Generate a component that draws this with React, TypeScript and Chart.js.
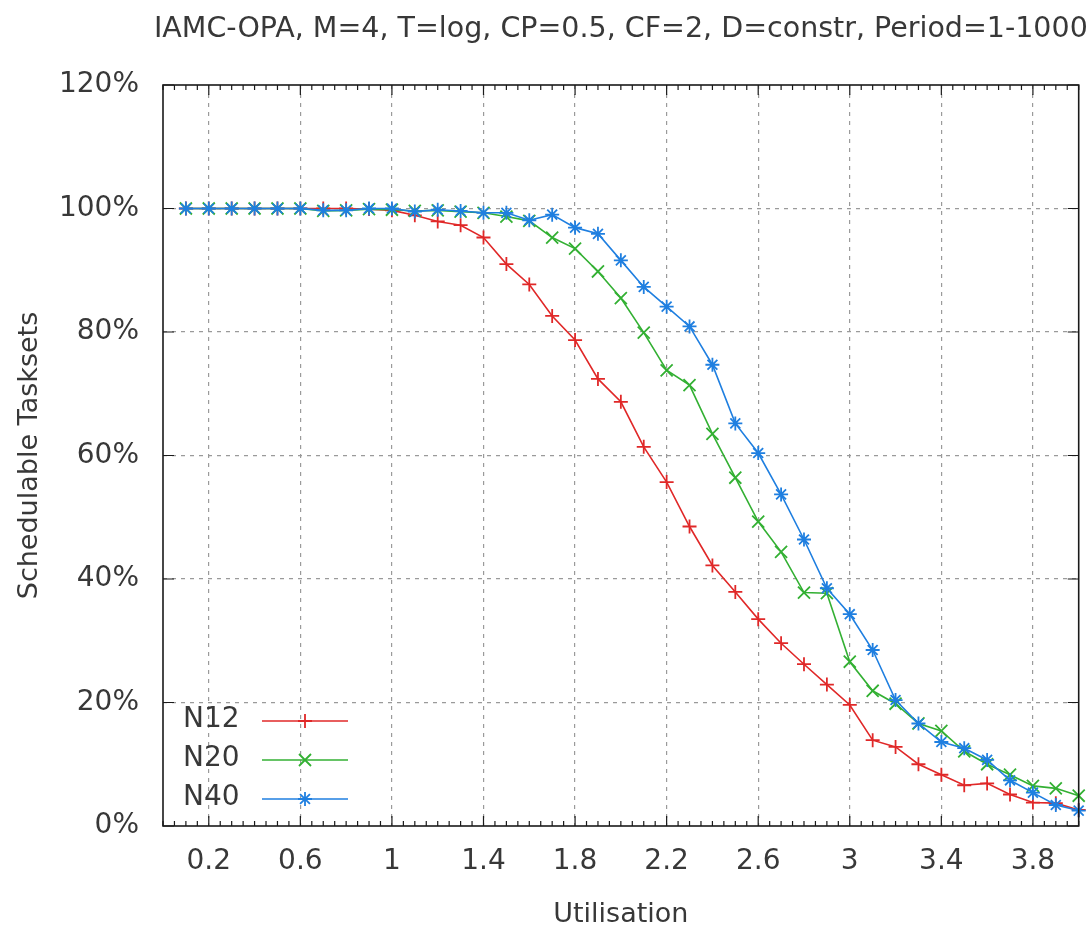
import React, { useEffect, useRef } from "react";
import { Chart, registerables } from "chart.js";

Chart.register(...registerables);

// Utilisation sample points (x axis)
const UTILISATION: number[] = [
  0.1, 0.2, 0.3, 0.4, 0.5, 0.6, 0.7, 0.8, 0.9, 1.0,
  1.1, 1.2, 1.3, 1.4, 1.5, 1.6, 1.7, 1.8, 1.9, 2.0,
  2.1, 2.2, 2.3, 2.4, 2.5, 2.6, 2.7, 2.8, 2.9, 3.0,
  3.1, 3.2, 3.3, 3.4, 3.5, 3.6, 3.7, 3.8, 3.9, 4.0,
];

// Percentage of schedulable tasksets per task count
const N12: number[] = [
  100, 100, 100, 100, 100, 100, 100, 100, 99.9, 99.7,
  98.9, 97.9, 97.3, 95.3, 91.0, 87.7, 82.6, 78.7, 72.4, 68.7,
  61.4, 55.7, 48.5, 42.2, 37.9, 33.5, 29.6, 26.2, 22.9, 19.6,
  13.9, 12.8, 10.0, 8.3, 6.6, 6.9, 5.1, 3.8, 3.7, 2.6,
];
const N20: number[] = [
  100, 100, 100, 100, 100, 100, 99.6, 99.7, 99.9, 99.8,
  99.6, 99.7, 99.5, 99.3, 98.7, 98.0, 95.3, 93.5, 89.8, 85.5,
  79.9, 73.8, 71.4, 63.5, 56.4, 49.3, 44.4, 37.8, 37.7, 26.6,
  21.9, 19.8, 16.6, 15.4, 12.1, 10.0, 8.3, 6.5, 6.1, 4.9,
];
const N40: number[] = [
  100, 100, 100, 100, 100, 100, 99.7, 99.7, 100, 100,
  99.5, 99.8, 99.6, 99.3, 99.3, 98.1, 99.0, 96.9, 95.9, 91.6,
  87.3, 84.1, 80.9, 74.7, 65.2, 60.4, 53.7, 46.4, 38.5, 34.3,
  28.5, 20.4, 16.6, 13.6, 12.6, 10.7, 7.4, 5.4, 3.4, 2.5,
];

const SERIES_NAMES: string[] = ["N12", "N20", "N40"];
const X_MAJOR_TICKS: number[] = [0.2, 0.6, 1.0, 1.4, 1.8, 2.2, 2.6, 3.0, 3.4, 3.8];
const Y_TICKS: number[] = [0, 20, 40, 60, 80, 100, 120];

const TITLE = "IAMC-OPA, M=4, T=log, CP=0.5, CF=2, D=constr, Period=1-1000";
const FONT = "'DejaVu Sans', sans-serif";
const TEXT_COLOR = "#383838";

const COLORS = ["#e02828", "#33b033", "#1f7fe0"];
const STYLES = ["cross", "crossRot", "star"];
const RADII = [7, 8.5, 7];

function drawMarker(ctx: CanvasRenderingContext2D, style: string, x: number, y: number, r: number) {
  ctx.beginPath();
  if (style === "cross" || style === "star") {
    ctx.moveTo(x - r, y);
    ctx.lineTo(x + r, y);
    ctx.moveTo(x, y - r);
    ctx.lineTo(x, y + r);
  }
  if (style === "crossRot" || style === "star") {
    const d = r * Math.SQRT1_2;
    ctx.moveTo(x - d, y - d);
    ctx.lineTo(x + d, y + d);
    ctx.moveTo(x - d, y + d);
    ctx.lineTo(x + d, y - d);
  }
  ctx.stroke();
}

// Frame, inward ticks, title and the in-plot key
const decorations = {
  id: "decorations",
  afterDraw(chart: any) {
    const { ctx, chartArea: a, scales } = chart;
    const xs = scales.x;
    const ys = scales.y;
    ctx.save();

    // border box
    ctx.strokeStyle = "#1a1a1a";
    ctx.lineWidth = 1.6;
    ctx.strokeRect(a.left, a.top, a.right - a.left, a.bottom - a.top);

    // x ticks: minor every 0.05, major at labelled values
    ctx.lineWidth = 1.2;
    ctx.beginPath();
    for (let i = 0; i <= 80; i++) {
      const v = i * 0.05;
      const px = xs.getPixelForValue(v);
      const major = X_MAJOR_TICKS.some((m) => Math.abs(m - v) < 1e-6);
      const len = major ? 10 : 5;
      ctx.moveTo(px, a.bottom);
      ctx.lineTo(px, a.bottom - len);
      ctx.moveTo(px, a.top);
      ctx.lineTo(px, a.top + len);
    }
    // y ticks on both sides
    for (const v of Y_TICKS) {
      const py = ys.getPixelForValue(v);
      ctx.moveTo(a.left, py);
      ctx.lineTo(a.left + 11, py);
      ctx.moveTo(a.right, py);
      ctx.lineTo(a.right - 11, py);
    }
    ctx.stroke();

    // title
    ctx.fillStyle = TEXT_COLOR;
    ctx.font = `28.5px ${FONT}`;
    ctx.textAlign = "center";
    ctx.textBaseline = "alphabetic";
    ctx.fillText(TITLE, (a.left + a.right) / 2, 37);

    // key, bottom-left inside the plot
    ctx.font = `28px ${FONT}`;
    ctx.textAlign = "left";
    ctx.textBaseline = "middle";
    SERIES_NAMES.forEach((name, i) => {
      const y = a.bottom - 106 + i * 39;
      ctx.fillStyle = TEXT_COLOR;
      ctx.fillText(name, a.left + 20, y);
      ctx.strokeStyle = COLORS[i];
      ctx.lineWidth = 1.6;
      ctx.beginPath();
      ctx.moveTo(a.left + 99, y + 1);
      ctx.lineTo(a.left + 185, y + 1);
      ctx.stroke();
      ctx.lineWidth = 1.8;
      drawMarker(ctx, STYLES[i], a.left + 142, y + 1, RADII[i]);
    });
    ctx.restore();
  },
};

export default function App() {
  const canvasRef = useRef<HTMLCanvasElement | null>(null);

  useEffect(() => {
    if (!canvasRef.current) return;
    const seriesValues = [N12, N20, N40];
    const datasets = SERIES_NAMES.map((name, i) => ({
      label: name,
      data: UTILISATION.map((u, k) => ({ x: u, y: seriesValues[i][k] })),
      borderColor: COLORS[i],
      backgroundColor: COLORS[i],
      borderWidth: 1.6,
      pointStyle: STYLES[i],
      pointRadius: RADII[i],
      pointBorderWidth: 1.8,
      pointBorderColor: COLORS[i],
      tension: 0,
      fill: false,
      order: 2 - i,
      clip: 10,
    }));

    const chart = new Chart(canvasRef.current, {
      type: "line",
      data: { datasets },
      plugins: [decorations],
      options: {
        animation: false,
        responsive: true,
        maintainAspectRatio: false,
        layout: { padding: { top: 85, right: 8, left: 0, bottom: 0 } },
        plugins: {
          legend: { display: false },
          title: { display: false },
          tooltip: { enabled: false },
        },
        scales: {
          x: {
            type: "linear",
            min: 0,
            max: 4,
            afterBuildTicks: (s: any) => {
              s.ticks = X_MAJOR_TICKS.map((v) => ({ value: v }));
            },
            afterFit: (s: any) => {
              s.height = 112;
            },
            ticks: {
              autoSkip: false,
              maxRotation: 0,
              padding: 19,
              color: TEXT_COLOR,
              font: { family: FONT, size: 28 },
              callback: (v: any) => String(Number(Number(v).toFixed(1))),
            },
            grid: {
              color: "#9a9a9a",
              lineWidth: 1.2,
              drawTicks: false,
            },
            border: { display: false, dash: [4, 5] },
            title: {
              display: true,
              text: "Utilisation",
              color: TEXT_COLOR,
              font: { family: FONT, size: 27 },
              padding: { top: 0, bottom: 7 },
            },
          },
          y: {
            min: 0,
            max: 120,
            afterFit: (s: any) => {
              s.width = 163;
            },
            ticks: {
              stepSize: 20,
              padding: 24,
              color: TEXT_COLOR,
              font: { family: FONT, size: 28 },
              callback: (v: any) => `${v}%`,
            },
            grid: {
              color: (c: any) =>
                c.tick && (c.tick.value === 0 || c.tick.value === 120) ? "rgba(0,0,0,0)" : "#9a9a9a",
              lineWidth: 1.2,
              drawTicks: false,
            },
            border: { display: false, dash: [4, 5] },
            title: {
              display: true,
              text: "Schedulable Tasksets",
              color: TEXT_COLOR,
              font: { family: FONT, size: 27 },
              padding: { top: 14, bottom: 0 },
            },
          },
        },
      },
    } as any);

    return () => chart.destroy();
  }, []);

  return (
    <div style={{ position: "fixed", left: 0, top: 0, width: 1089, height: 938, background: "#ffffff" }}>
      <canvas ref={canvasRef} />
    </div>
  );
}
